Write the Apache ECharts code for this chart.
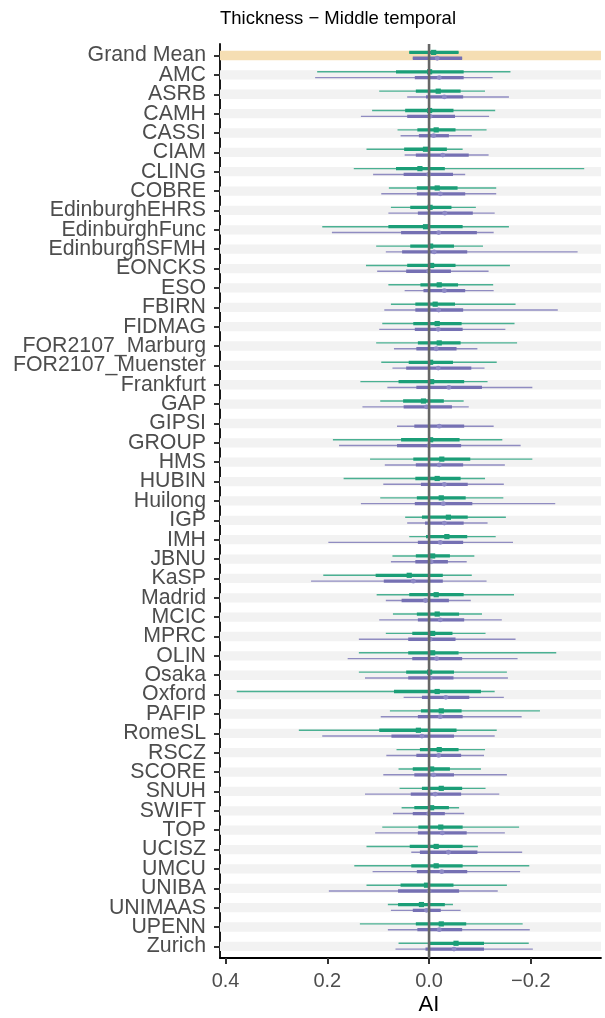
<!DOCTYPE html>
<html><head><meta charset="utf-8">
<script src="https://cdn.jsdelivr.net/npm/echarts@6/dist/echarts.min.js"></script>
<style>html,body{margin:0;padding:0;background:#fff}#c{width:605px;height:1018px}</style>
</head><body><div id="c"></div><script>
const categories = ["Grand Mean","AMC","ASRB","CAMH","CASSI","CIAM","CLING","COBRE","EdinburghEHRS","EdinburghFunc","EdinburghSFMH","EONCKS","ESO","FBIRN","FIDMAG","FOR2107_Marburg","FOR2107_Muenster","Frankfurt","GAP","GIPSI","GROUP","HMS","HUBIN","Huilong","IGP","IMH","JBNU","KaSP","Madrid","MCIC","MPRC","OLIN","Osaka","Oxford","PAFIP","RomeSL","RSCZ","SCORE","SNUH","SWIFT","TOP","UCISZ","UMCU","UNIBA","UNIMAAS","UPENN","Zurich"];
const xTicks = [0.4, 0.2, 0.0, -0.2];
const xTickLabels = ["0.4", "0.2", "0.0", "\u22120.2"];

// green group: outer interval low, inner low, estimate, inner high, outer high
const greenOuterLo = [0.039,0.220,0.098,0.112,0.062,0.123,0.148,0.079,0.075,0.210,0.104,0.124,0.080,0.075,0.092,0.104,0.094,0.135,0.096,null,0.189,0.116,0.168,0.096,0.047,0.039,0.072,0.208,0.103,0.071,0.085,0.138,0.138,0.378,0.077,0.256,0.064,0.060,0.058,0.054,0.092,0.123,0.147,0.123,0.081,0.136,0.060];
const greenInnerLo = [0.039,0.065,0.026,0.047,0.023,0.049,0.065,0.024,0.037,0.080,0.037,0.043,0.017,0.027,0.031,0.022,0.040,0.060,0.051,null,0.055,0.031,0.027,0.024,0.014,0.006,0.026,0.105,0.039,0.024,0.033,0.041,0.045,0.069,0.016,0.098,0.018,0.032,0.014,0.029,0.021,0.038,0.035,0.056,0.061,0.026,-0.001];
const greenEst = [-0.009,-0.001,-0.018,-0.001,-0.014,0.007,0.018,-0.016,-0.002,0.007,-0.003,-0.005,-0.020,-0.012,-0.016,-0.020,-0.003,-0.005,0.011,null,-0.003,-0.025,-0.016,-0.024,-0.038,-0.035,-0.007,0.039,-0.014,-0.016,-0.007,-0.007,-0.001,-0.016,-0.024,0.021,-0.020,-0.005,-0.024,-0.005,-0.023,-0.014,-0.014,0.005,0.015,-0.024,-0.053];
const greenInnerHi = [-0.058,-0.068,-0.062,-0.048,-0.052,-0.035,-0.031,-0.056,-0.044,-0.066,-0.049,-0.052,-0.057,-0.051,-0.064,-0.062,-0.047,-0.069,-0.029,null,-0.060,-0.081,-0.062,-0.072,-0.076,-0.075,-0.041,-0.027,-0.068,-0.059,-0.046,-0.058,-0.049,-0.102,-0.064,-0.054,-0.058,-0.041,-0.065,-0.039,-0.066,-0.066,-0.066,-0.048,-0.031,-0.073,-0.108];
const greenOuterHi = [-0.058,-0.160,-0.110,-0.130,-0.113,-0.066,-0.305,-0.132,-0.092,-0.157,-0.106,-0.159,-0.126,-0.170,-0.168,-0.173,-0.133,-0.115,-0.068,null,-0.144,-0.203,-0.110,-0.146,-0.151,-0.131,-0.089,-0.084,-0.167,-0.104,-0.111,-0.250,-0.153,-0.129,-0.218,-0.133,-0.110,-0.102,-0.111,-0.059,-0.177,-0.096,-0.197,-0.153,-0.047,-0.184,-0.196];

// purple group
const purpleOuterLo = [0.032,0.224,0.043,0.134,0.056,0.048,0.110,0.094,0.080,0.191,0.085,0.102,0.048,0.088,0.098,0.069,0.072,0.082,0.131,0.063,0.177,0.087,0.090,0.134,0.043,0.198,0.075,0.232,0.085,0.098,0.138,0.160,0.126,0.050,0.095,0.210,0.084,0.090,0.126,0.071,0.106,0.035,0.111,0.197,0.075,0.081,0.066];
const purpleInnerLo = [0.032,0.028,0.006,0.043,0.020,0.026,0.050,0.024,0.022,0.055,0.053,0.045,0.011,0.027,0.028,0.025,0.045,0.025,0.050,0.029,0.063,0.026,0.016,0.028,0.008,0.022,0.027,0.089,0.054,0.022,0.041,0.033,0.041,0.014,0.022,0.074,0.025,0.029,0.036,0.032,0.022,0.018,0.024,0.061,0.032,0.023,0.007];
const purpleEst = [-0.016,-0.020,-0.030,-0.002,-0.009,-0.027,0.001,-0.022,-0.031,-0.019,-0.010,0.001,-0.030,-0.019,-0.018,-0.014,-0.018,-0.039,0.005,-0.020,0.000,-0.020,-0.030,-0.028,-0.030,-0.022,-0.004,0.031,0.007,-0.022,-0.002,-0.015,-0.002,-0.033,-0.022,0.014,-0.019,-0.009,-0.012,0.001,-0.026,-0.038,-0.025,0.000,0.005,-0.020,-0.049];
const purpleInnerHi = [-0.065,-0.068,-0.067,-0.051,-0.039,-0.078,-0.047,-0.071,-0.086,-0.094,-0.075,-0.043,-0.071,-0.067,-0.066,-0.054,-0.083,-0.104,-0.045,-0.069,-0.063,-0.067,-0.076,-0.085,-0.068,-0.067,-0.037,-0.027,-0.039,-0.069,-0.052,-0.065,-0.048,-0.079,-0.066,-0.049,-0.063,-0.049,-0.063,-0.031,-0.074,-0.095,-0.075,-0.059,-0.023,-0.065,-0.108];
const purpleOuterHi = [-0.065,-0.125,-0.157,-0.118,-0.084,-0.117,-0.071,-0.132,-0.129,-0.127,-0.292,-0.117,-0.127,-0.253,-0.150,-0.095,-0.109,-0.203,-0.078,-0.127,-0.180,-0.149,-0.147,-0.248,-0.115,-0.165,-0.074,-0.113,-0.082,-0.143,-0.170,-0.174,-0.155,-0.147,-0.182,-0.129,-0.108,-0.153,-0.138,-0.069,-0.149,-0.183,-0.179,-0.135,-0.062,-0.198,-0.204];

function rows(lo95, lo66, est, hi66, hi95) {
  const out = [];
  for (let i = 0; i < categories.length; i++) {
    if (est[i] === null) continue;
    out.push([i, lo95[i], lo66[i], est[i], hi66[i], hi95[i]]);
  }
  return out;
}
const greenData = rows(greenOuterLo, greenInnerLo, greenEst, greenInnerHi, greenOuterHi);
const purpleData = rows(purpleOuterLo, purpleInnerLo, purpleEst, purpleInnerHi, purpleOuterHi);
const bandData = categories.map((c, i) => [0, i]);
const yIdx = categories.map((c, i) => i);
const Y_MIN = -0.6, Y_MAX = categories.length - 1 + 0.6;
const yLabelValues = [Y_MIN].concat(yIdx, [Y_MAX]);

function makeRender(color, thinColor, ptColor, off, square) {
  return function (params, api) {
    const y = api.value(0) + off;
    const a = api.coord([api.value(1), y]);
    const b = api.coord([api.value(5), y]);
    const c = api.coord([api.value(2), y]);
    const d = api.coord([api.value(4), y]);
    const m = api.coord([api.value(3), y]);
    const pt = square
      ? { type: 'rect', shape: { x: m[0] - 2.6, y: m[1] - 2.6, width: 5.2, height: 5.2 }, style: { fill: color } }
      : { type: 'circle', shape: { cx: m[0], cy: m[1], r: 2.4 }, style: { fill: ptColor } };
    return {
      type: 'group',
      children: [
        { type: 'line', shape: { x1: a[0], y1: a[1], x2: b[0], y2: b[1] }, style: { stroke: thinColor, lineWidth: 1.4 } },
        { type: 'line', shape: { x1: c[0], y1: c[1], x2: d[0], y2: d[1] }, style: { stroke: color, lineWidth: 3.3 } },
        pt
      ]
    };
  };
}

const FONT = "'Liberation Sans', Arial, sans-serif";
const chart = echarts.init(document.getElementById('c'), null, { renderer: 'canvas' });
chart.setOption({
  animation: false,
  backgroundColor: '#fff',
  grid: { left: 220, right: 4, top: 43.9, bottom: 60, containLabel: false },
  xAxis: {
    type: 'value', inverse: true, min: -0.338, max: 0.411,
    axisLine: { show: true, onZero: false, lineStyle: { color: '#000', width: 1.8 } },
    axisTick: { show: true, customValues: xTicks, length: 6, lineStyle: { color: '#333', width: 2 } },
    axisLabel: { customValues: xTicks, showMinLabel: true, showMaxLabel: true, hideOverlap: false, fontSize: 20, color: '#4d4d4d', fontFamily: FONT, margin: 13,
      formatter: v => { const k = xTicks.findIndex(t => Math.abs(t - v) < 1e-9); return k >= 0 ? xTickLabels[k] : ''; } },
    splitLine: { show: false }
  },
  yAxis: {
    type: 'value', inverse: true, min: Y_MIN, max: Y_MAX,
    axisLine: { show: true, onZero: false, lineStyle: { color: '#000', width: 1.8 } },
    axisTick: { show: true, customValues: yIdx, length: 6, lineStyle: { color: '#333', width: 2 } },
    axisLabel: { customValues: yLabelValues, showMinLabel: false, showMaxLabel: false, hideOverlap: false, fontSize: 21.3, color: '#4d4d4d', fontFamily: FONT, margin: 14,
      formatter: v => (Math.abs(v - Math.round(v)) < 1e-6 && categories[Math.round(v)]) || '' },
    splitLine: { show: false }
  },
  graphic: [
    { type: 'text', x: 338, y: 19, style: { text: 'Thickness \u2212 Middle temporal', font: "18.5px " + FONT, fill: '#000', textAlign: 'center', textVerticalAlign: 'middle' } },
    { type: 'text', x: 429, y: 1005, style: { text: 'AI', font: "22px " + FONT, fill: '#000', textAlign: 'center', textVerticalAlign: 'middle' } },
    { type: 'text', x: 5, y: 501, rotation: Math.PI / 2, style: { text: 'Dataset', font: "22px " + FONT, fill: '#000', textAlign: 'center', textVerticalAlign: 'bottom' } }
  ],
  series: [
    {
      type: 'custom', z: 1, silent: true, data: bandData, encode: { x: 0, y: 1 },
      renderItem: function (params, api) {
        const i = api.value(1);
        const cs = params.coordSys;
        const top = api.coord([0, i - 0.24])[1];
        const bot = api.coord([0, i + 0.24])[1];
        return { type: 'rect', shape: { x: cs.x, y: top, width: cs.width, height: bot - top },
          style: { fill: i === 0 ? '#f5deb3' : '#f2f2f2' } };
      }
    },
    {
      type: 'custom', z: 2, silent: true, data: purpleData, encode: { x: [1, 2, 3, 4, 5], y: 0 },
      renderItem: makeRender('#7570b3', 'rgba(117,112,179,0.78)', '#8e8ac6', 0.14, false)
    },
    {
      type: 'custom', z: 3, silent: true, data: greenData, encode: { x: [1, 2, 3, 4, 5], y: 0 },
      renderItem: makeRender('#1b9e77', 'rgba(27,158,119,0.78)', '#1b9e77', -0.16, true)
    },
    {
      type: 'custom', z: 5, silent: true, data: [[0, 0]], encode: { x: 0, y: 1 },
      renderItem: function (params, api) {
        const cs = params.coordSys;
        const x = api.coord([0, 0])[0];
        return { type: 'line', shape: { x1: x, y1: cs.y, x2: x, y2: cs.y + cs.height }, style: { stroke: '#666666', lineWidth: 2.6 } };
      }
    }
  ]
});
</script></body></html>
